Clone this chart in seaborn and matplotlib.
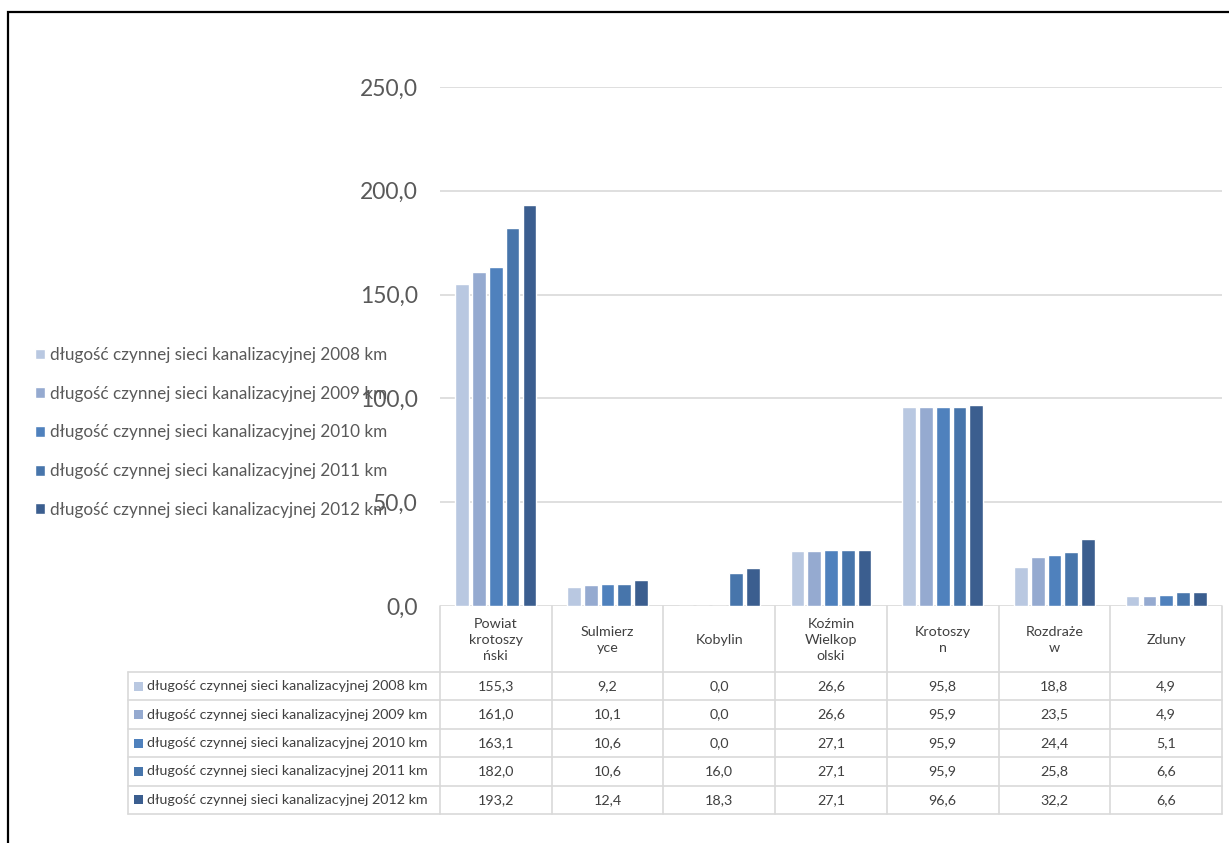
import numpy as np
import pandas as pd
import matplotlib
matplotlib.use("Agg")
import matplotlib.pyplot as plt
import matplotlib.transforms as mtransforms
from matplotlib.patches import Rectangle
import seaborn as sns

# dane
gminy = ["Powiat\nkrotoszy\nński", "Sulmierz\nyce", "Kobylin", "Koźmin\nWielkop\nolski",
         "Krotoszy\nn", "Rozdraże\nw", "Zduny"]
serie = ["długość czynnej sieci kanalizacyjnej 2008 km",
         "długość czynnej sieci kanalizacyjnej 2009 km",
         "długość czynnej sieci kanalizacyjnej 2010 km",
         "długość czynnej sieci kanalizacyjnej 2011 km",
         "długość czynnej sieci kanalizacyjnej 2012 km"]
km_2008 = [155.3, 9.2, 0.0, 26.6, 95.8, 18.8, 4.9]
km_2009 = [161.0, 10.1, 0.0, 26.6, 95.9, 23.5, 4.9]
km_2010 = [163.1, 10.6, 0.0, 27.1, 95.9, 24.4, 5.1]
km_2011 = [182.0, 10.6, 16.0, 27.1, 95.9, 25.8, 6.6]
km_2012 = [193.2, 12.4, 18.3, 27.1, 96.6, 32.2, 6.6]
y_ticks = [0, 50, 100, 150, 200, 250]

kolory = ["#B9C8E1", "#95AAD0", "#4F81BD", "#4775AB", "#3B5E8F"]
wartosci = [km_2008, km_2009, km_2010, km_2011, km_2012]

df = pd.DataFrame({
    "gmina": np.tile(gminy, len(serie)),
    "seria": np.repeat(serie, len(gminy)),
    "km": np.concatenate(wartosci),
})

W, H = 1229, 843
sns.set_style("white")
plt.rcParams["font.family"] = ["Lato", "DejaVu Sans"]
fig = plt.figure(figsize=(W / 100, H / 100), dpi=100)
ax = fig.add_axes([440 / W, 1 - 606 / H, (1222 - 440) / W, (606 - 87) / H])

sns.barplot(data=df, x="gmina", y="km", hue="seria", palette=kolory, saturation=1,
            width=0.75, gap=0.18, ax=ax, legend=True)

fmt = lambda v: f"{v:.1f}".replace(".", ",")
ax.set_ylim(0, 250)
ax.set_xlim(-0.5, len(gminy) - 0.5)
ax.set_yticks(y_ticks)
ax.set_yticklabels([fmt(v) for v in y_ticks], fontsize=16.5, color="#595959")
ax.tick_params(axis="y", length=0, pad=16)
ax.set_xticks([])
ax.set_xlabel("")
ax.set_ylabel("")
ax.grid(axis="y", color="#D9D9D9", linewidth=1.2)
ax.set_axisbelow(True)
for s in ax.spines.values():
    s.set_visible(False)

# legenda
h, l = ax.get_legend_handles_labels()
ax.get_legend().remove()
fig.legend(h, l, loc="center left", bbox_to_anchor=(35 / W, 1 - 432.5 / H),
           frameon=False, fontsize=12.3, labelcolor="#595959", labelspacing=1.33,
           handlelength=0.6, handleheight=0.6, handletextpad=0.25,
           borderpad=0, borderaxespad=0)

# tabela danych
blend = mtransforms.blended_transform_factory(ax.transData, fig.transFigure)
fy = lambda p: 1 - p / H
fx = lambda p: p / W
lc = "#D9D9D9"
lw = 1.2
txt_c = "#404040"
top_hdr, top_rows, row_h = 606, 672, 28.4
bottom = top_rows + row_h * len(serie)
bounds = np.arange(len(gminy) + 1) - 0.5

for b in bounds:
    ax.plot([b, b], [fy(top_hdr), fy(bottom)], transform=blend, color=lc, lw=lw, clip_on=False)
ax.plot([fx(128), fx(128)], [fy(top_rows), fy(bottom)], transform=fig.transFigure,
        color=lc, lw=lw, clip_on=False)
for r in range(len(serie) + 1):
    yy = fy(top_rows + r * row_h)
    ax.plot([fx(128), fx(440)], [yy, yy], transform=fig.transFigure, color=lc, lw=lw, clip_on=False)
    ax.plot([bounds[0], bounds[-1]], [yy, yy], transform=blend, color=lc, lw=lw, clip_on=False)

for i, g in enumerate(gminy):
    ax.text(i, fy(640), g, transform=blend, ha="center", va="center", fontsize=10.3,
            color=txt_c, linespacing=1.35)
for r, (nazwa, vals) in enumerate(zip(serie, wartosci)):
    yc = fy(top_rows + (r + 0.5) * row_h)
    fig.patches.append(Rectangle((fx(134), yc - 4.5 / H), 9 / W, 9 / H, transform=fig.transFigure,
                                 facecolor=kolory[r], edgecolor="none"))
    fig.text(fx(147), yc, nazwa, ha="left", va="center", fontsize=10.3, color=txt_c)
    for i, v in enumerate(vals):
        ax.text(i, yc, fmt(v), transform=blend, ha="center", va="center", fontsize=10.3, color=txt_c)

# ramka
fig.patches.append(Rectangle((fx(8), -0.1), 1.2, fy(12) + 0.1, transform=fig.transFigure,
                             facecolor="none", edgecolor="black", linewidth=1.6))

fig.savefig("out.png", dpi=100)
